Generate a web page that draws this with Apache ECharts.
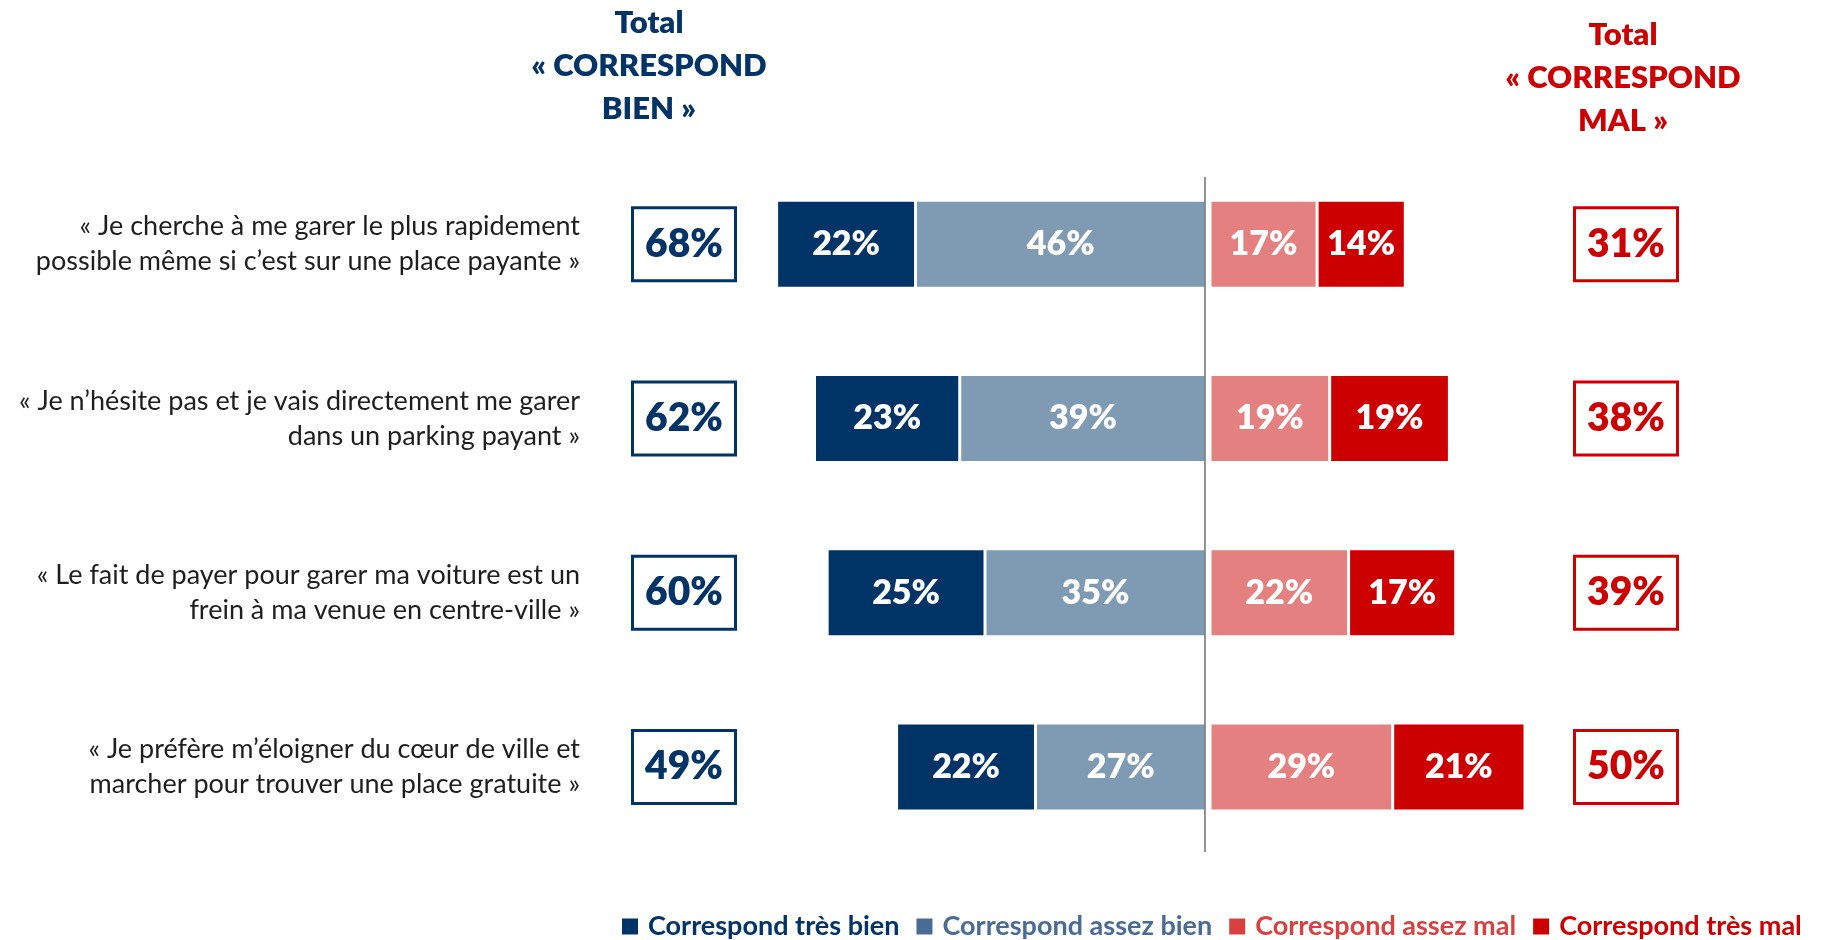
<!DOCTYPE html>
<html lang="fr">
<head>
<meta charset="utf-8">
<title>Correspond bien / mal</title>
<script src="https://cdn.jsdelivr.net/npm/echarts@6/dist/echarts.min.js"></script>
<style>
  html, body { margin: 0; padding: 0; background: #ffffff; }
  #main { width: 1826px; height: 940px; }
</style>
</head>
<body>
<div id="main"></div>
<script>
// Statements shown on the category axis
const categories = [
  '« Je cherche à me garer le plus rapidement\npossible même si c’est sur une place payante »',
  '« Je n’hésite pas et je vais directement me garer\ndans un parking payant »',
  '« Le fait de payer pour garer ma voiture est un\nfrein à ma venue en centre-ville »',
  '« Je préfère m’éloigner du cœur de ville et\nmarcher pour trouver une place gratuite »'
];

// Answer shares (%)
const tresBien = [22, 23, 25, 22];
const assezBien = [46, 39, 35, 27];
const assezMal = [17, 19, 22, 29];
const tresMal = [14, 19, 17, 21];

// Totals shown in the framed boxes (%)
const totalBien = [68, 62, 60, 49];
const totalMal = [31, 38, 39, 50];

const seriesNames = ['Correspond très bien', 'Correspond assez bien', 'Correspond assez mal', 'Correspond très mal'];

const NAVY = '#003366';
const RED = '#CC0000';
const FONT = 'Lato, "Open Sans", sans-serif';
const HEAVY = 800;

// One bar segment; the "bien" side lives in grid 0 (negative axis), the "mal" side in grid 1
function segment(name, values, sign, color, gridIdx) {
  return {
    name: name,
    type: 'bar',
    stack: 'side' + gridIdx,
    barWidth: 88,
    xAxisIndex: gridIdx,
    yAxisIndex: gridIdx === 0 ? 0 : 2,
    data: values.map(v => sign * v),
    itemStyle: { color: color, borderColor: '#ffffff', borderWidth: 1.5 },
    label: {
      show: true,
      position: 'inside',
      color: '#ffffff',
      fontFamily: FONT,
      fontWeight: HEAVY,
      fontSize: 34,
      formatter: p => Math.abs(p.value) + '%'
    },
    emphasis: { disabled: true }
  };
}

function hiddenCategoryAxis(extra) {
  return Object.assign({
    type: 'category',
    data: categories,
    inverse: true,
    axisLine: { show: false },
    axisTick: { show: false },
    splitLine: { show: false }
  }, extra);
}

function totalBox(color, values, margin) {
  return {
    margin: margin,
    align: 'center',
    formatter: (v, i) => values[i] + '%',
    color: color,
    fontFamily: FONT,
    fontWeight: HEAVY,
    fontSize: 39,
    borderColor: color,
    borderWidth: 3,
    backgroundColor: '#ffffff',
    width: 100,
    height: 70,
    lineHeight: 70,
    padding: 0
  };
}

function legendItem(name, color) {
  return { name: name, itemStyle: { color: color }, textStyle: { color: color } };
}

const chart = echarts.init(document.getElementById('main'), null, { renderer: 'canvas' });

chart.setOption({
  backgroundColor: '#ffffff',
  animation: false,
  grid: [
    { left: 764, width: 442, top: 157, bottom: 86 },
    { left: 1210, width: 378, top: 157, bottom: 86 }
  ],
  xAxis: [
    { type: 'value', gridIndex: 0, min: -70, max: 0, show: false },
    { type: 'value', gridIndex: 1, min: 0, max: 60, show: false }
  ],
  yAxis: [
    hiddenCategoryAxis({
      gridIndex: 0,
      position: 'left',
      axisLabel: {
        margin: 184,
        align: 'right',
        fontFamily: FONT,
        fontSize: 27,
        color: '#1e1e1e',
        lineHeight: 35
      }
    }),
    hiddenCategoryAxis({
      gridIndex: 0,
      position: 'left',
      axisLabel: totalBox(NAVY, totalBien, 80)
    }),
    hiddenCategoryAxis({
      gridIndex: 1,
      position: 'right',
      axisLabel: totalBox(RED, totalMal, 38)
    })
  ],
  legend: {
    left: 620,
    top: 913,
    width: 1300,
    padding: 0,
    icon: 'rect',
    itemWidth: 18,
    itemHeight: 18,
    itemGap: 15,
    selectedMode: false,
    textStyle: { fontFamily: FONT, fontWeight: 'bold', fontSize: 27, padding: [0, 0, 0, 4] },
    data: [
      legendItem(seriesNames[0], NAVY),
      legendItem(seriesNames[1], '#4A6B93'),
      legendItem(seriesNames[2], '#D94141'),
      legendItem(seriesNames[3], RED)
    ]
  },
  series: [
    segment(seriesNames[1], assezBien, -1, '#7F9AB3', 0),
    segment(seriesNames[0], tresBien, -1, NAVY, 0),
    segment(seriesNames[2], assezMal, 1, '#E48080', 1),
    segment(seriesNames[3], tresMal, 1, RED, 1)
  ]
});

// Column headers and the zero line drawn over the bars
const zeroX = chart.convertToPixel({ xAxisIndex: 0 }, 0) - 1;
chart.setOption({
  graphic: [
    {
      type: 'text', x: 649, y: 1, z: 10,
      style: {
        text: 'Total\n« CORRESPOND\nBIEN »', fill: NAVY,
        fontFamily: FONT, fontWeight: HEAVY, fontSize: 31,
        align: 'center', verticalAlign: 'top', lineHeight: 43
      }
    },
    {
      type: 'text', x: 1623, y: 13, z: 10,
      style: {
        text: 'Total\n« CORRESPOND\nMAL »', fill: RED,
        fontFamily: FONT, fontWeight: HEAVY, fontSize: 31,
        align: 'center', verticalAlign: 'top', lineHeight: 43
      }
    },
    {
      type: 'line', z: 100,
      shape: { x1: zeroX, y1: 177, x2: zeroX, y2: 852 },
      style: { stroke: '#595959', lineWidth: 1.3 }
    }
  ]
});
</script>
</body>
</html>
